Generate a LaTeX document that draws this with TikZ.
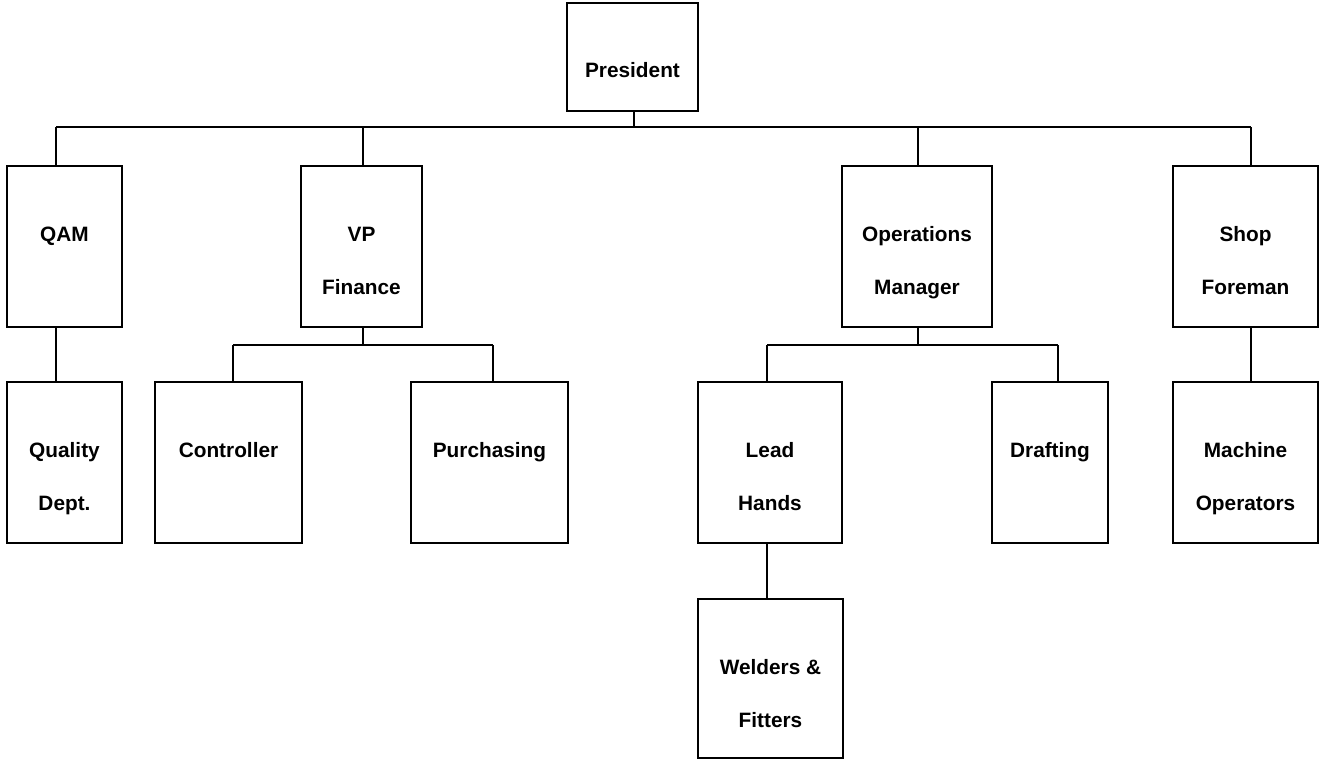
\documentclass[tikz,border=0pt]{standalone}
\usepackage{fontspec}
\setmainfont{Liberation Sans}
\usetikzlibrary{fit,calc}
\begin{document}
\begin{tikzpicture}[x=0.75pt,y=-0.75pt,
  box/.style={draw, line width=1.5pt, inner sep=0pt},
  lbl/.style={anchor=base, inner sep=0pt, font=\bfseries\fontsize{15.6pt}{18pt}\selectfont},
  conn/.style={line width=1.5pt}]
\useasboundingbox (0,0) rectangle (1321,761);
% boxes
\node[box, fit={(567,3) (698,111)}] (pres) {};
\node[box, fit={(7,166) (122,327)}] (qam) {};
\node[box, fit={(301,166) (422,327)}] (vp) {};
\node[box, fit={(842,166) (992,327)}] (ops) {};
\node[box, fit={(1173,166) (1318,327)}] (shop) {};
\node[box, fit={(7,382) (122,543)}] (qual) {};
\node[box, fit={(155,382) (302,543)}] (ctrl) {};
\node[box, fit={(411,382) (568,543)}] (purch) {};
\node[box, fit={(698,382) (842,543)}] (lead) {};
\node[box, fit={(992,382) (1108,543)}] (draft) {};
\node[box, fit={(1173,382) (1318,543)}] (mach) {};
\node[box, fit={(698,599) (843,758)}] (weld) {};
% labels
\node[lbl] (presT) at ($(pres.north)+(0,75)$) {President};
\node[lbl] (qamT) at ($(qam.north)+(0,76)$) {QAM};
\node[lbl] (vpT1) at ($(vp.north)+(0,76)$) {VP};
\node[lbl] (vpT2) at ($(vp.north)+(0,129)$) {Finance};
\node[lbl] (opsT1) at ($(ops.north)+(0,76)$) {Operations};
\node[lbl] (opsT2) at ($(ops.north)+(0,129)$) {Manager};
\node[lbl] (shopT1) at ($(shop.north)+(0,76)$) {Shop};
\node[lbl] (shopT2) at ($(shop.north)+(0,129)$) {Foreman};
\node[lbl] (qualT1) at ($(qual.north)+(0,76)$) {Quality};
\node[lbl] (qualT2) at ($(qual.north)+(0,129)$) {Dept.};
\node[lbl] (ctrlT) at ($(ctrl.north)+(0,76)$) {Controller};
\node[lbl] (purchT) at ($(purch.north)+(0,76)$) {Purchasing};
\node[lbl] (leadT1) at ($(lead.north)+(0,76)$) {Lead};
\node[lbl] (leadT2) at ($(lead.north)+(0,129)$) {Hands};
\node[lbl] (draftT) at ($(draft.north)+(0,76)$) {Drafting};
\node[lbl] (machT1) at ($(mach.north)+(0,76)$) {Machine};
\node[lbl] (machT2) at ($(mach.north)+(0,129)$) {Operators};
\node[lbl] (weldT1) at ($(weld.north)+(0,76)$) {Welders \&};
\node[lbl] (weldT2) at ($(weld.north)+(0,129)$) {Fitters};
% junctions
\coordinate (jP) at (634,127);
\coordinate (jQ) at (56,127);
\coordinate (jV) at (363,127);
\coordinate (jO) at (918,127);
\coordinate (jS) at (1251,127);
\coordinate (jVb) at (363,345);
\coordinate (jC) at (233,345);
\coordinate (jPu) at (493,345);
\coordinate (jOb) at (918,345);
\coordinate (jL) at (767,345);
\coordinate (jD) at (1058,345);
% connectors
\draw[conn] (jQ) -- (jS);
\draw[conn] (pres.south -| jP) -- (jP);
\draw[conn] (jQ) -- (qam.north -| jQ);
\draw[conn] (jV) -- (vp.north -| jV);
\draw[conn] (jO) -- (ops.north -| jO);
\draw[conn] (jS) -- (shop.north -| jS);
\draw[conn] (qam.south -| jQ) -- (qual.north -| jQ);
\draw[conn] (shop.south -| jS) -- (mach.north -| jS);
\draw[conn] (vp.south -| jVb) -- (jVb);
\draw[conn] (jC) -- (jPu);
\draw[conn] (jC) -- (ctrl.north -| jC);
\draw[conn] (jPu) -- (purch.north -| jPu);
\draw[conn] (ops.south -| jOb) -- (jOb);
\draw[conn] (jL) -- (jD);
\draw[conn] (jL) -- (lead.north -| jL);
\draw[conn] (jD) -- (draft.north -| jD);
\draw[conn] (lead.south -| jL) -- (weld.north -| jL);
\end{tikzpicture}
\end{document}
